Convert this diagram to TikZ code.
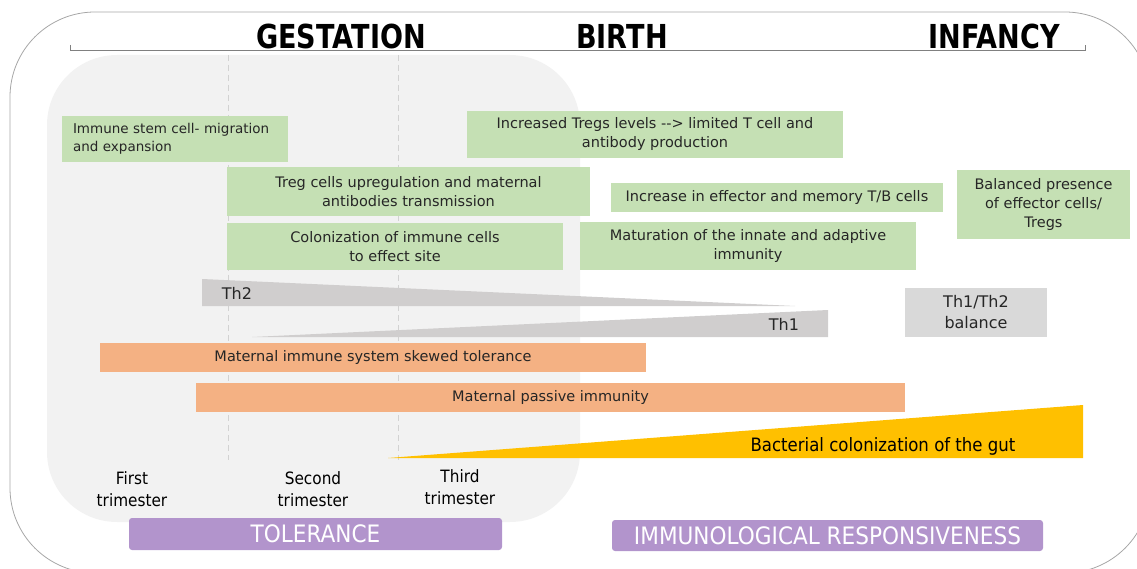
\documentclass[tikz,border=0pt]{standalone}
\usepackage{fontspec}
\setmainfont{DejaVu Sans}
\newfontfamily\headfont[FakeStretch=0.82]{DejaVu Sans Bold}
\newfontfamily\narrowfont[FakeStretch=0.9]{DejaVu Sans}
\usetikzlibrary{positioning}
\definecolor{greenfill}{HTML}{C5E0B4}
\definecolor{orangefill}{HTML}{F4B183}
\definecolor{wedgegray}{HTML}{D0CECE}
\definecolor{boxgray}{HTML}{D9D9D9}
\definecolor{regiongray}{HTML}{F2F2F2}
\definecolor{gutyellow}{HTML}{FFC000}
\definecolor{purplefill}{HTML}{B294CC}
\definecolor{textdark}{HTML}{262626}

\begin{document}
\begin{tikzpicture}[x=1pt,y=-1pt,box/.style={inner sep=0pt, align=center, text=textdark, font=\fontsize{14.5}{19}\selectfont}]
    \tikzset{greenbox/.style={box, fill=greenfill}}
    \tikzset{orangebar/.style={box, fill=orangefill, minimum height=29}}
    \tikzset{thlabel/.style={box, font=\fontsize{16}{21}\selectfont}}
    \tikzset{purplebar/.style={inner sep=0pt, fill=purplefill, rounded corners=3pt, text=white, font=\narrowfont\fontsize{24}{26}\selectfont}}
    \tikzset{trimester/.style={align=center, text=black, font=\narrowfont\fontsize{17}{22}\selectfont}}
    \tikzset{heading/.style={text=black, font=\headfont\fontsize{33}{36}\selectfont}}
    \useasboundingbox (0,0) rectangle (1137,569);
    % frame and gestation area
    \draw[gray!70, line width=0.8pt, rounded corners=85] (10,12) rectangle (1150,573);
    \fill[regiongray, rounded corners=70] (47,55) rectangle (580,522);
    \foreach \x in {228,398} {
    \draw[gray!35, dash pattern=on 6pt off 4pt] (\x,55) -- (\x,460);
    }
    \draw[gray, line width=0.8pt] (70,45) -- (70,50) -- (1085,50) -- (1085,45);
    % time line headings
    \node[heading] (gest) at (341,36) {GESTATION};
    \node[heading] (birth) at (622,36) {BIRTH};
    \node[heading] (inf) at (994,36) {INFANCY};
    % green boxes
    \node[greenbox, minimum width=226, minimum height=46, text width=204, align=left, font=\fontsize{13.5}{18}\selectfont] (stem) at (175,139) {Immune stem cell- migration\\and expansion};
    \node[greenbox, minimum width=376, minimum height=47] (tregs) at (655,134.5) {Increased Tregs levels {-}{-}> limited T cell and\\antibody production};
    \node[greenbox, minimum width=363, minimum height=49] (upreg) at (408.5,191.5) {Treg cells upregulation and maternal\\antibodies transmission};
    \node[greenbox, minimum width=332, minimum height=29] (effector) at (777,197.5) {Increase in effector and memory T/B cells};
    \node[greenbox, minimum width=173, minimum height=69] (balanced) at (1043.5,204.5) {Balanced presence\\of effector cells/\\Tregs};
    \node[greenbox, minimum width=336, minimum height=47] (colon) at (395,246.5) {Colonization of immune cells\\to effect site};
    \node[greenbox, minimum width=336, minimum height=48] (matur) at (748,246) {Maturation of the innate and adaptive\\immunity};
    % Th2 / Th1 wedges
    \fill[wedgegray] (202,279) -- (795,306) -- (202,306) -- cycle;
    \fill[wedgegray] (252,337) -- (828,310) -- (828,337) -- cycle;
    \node[thlabel] (th2) at (237,293) {Th2};
    \node[thlabel] (th1) at (784,324) {Th1};
    \node[thlabel, fill=boxgray, minimum width=142, minimum height=49] (thbal) at (976,312.5) {Th1/Th2\\balance};
    % maternal bars
    \node[orangebar, minimum width=546] (skewed) at (373,357.5) {Maternal immune system skewed tolerance};
    \node[orangebar, minimum width=709] (passive) at (550.5,397.5) {Maternal passive immunity};
    % gut
    \fill[gutyellow] (388,458) -- (1083,405) -- (1083,458) -- cycle;
    \node[box, text=black, font=\narrowfont\fontsize{18.4}{20}\selectfont] (gut) at (883,446) {Bacterial colonization of the gut};
    % trimesters
    \node[trimester] (first) at (132,489) {First\\trimester};
    \node[trimester] (second) at (313,489.5) {Second\\trimester};
    \node[trimester] (third) at (460,487) {Third\\trimester};
    % phases
    \node[purplebar, minimum width=373, minimum height=32] (tol) at (315.5,534) {TOLERANCE};
    \node[purplebar, minimum width=431, minimum height=31] (resp) at (827.5,535.5) {IMMUNOLOGICAL RESPONSIVENESS};
\end{tikzpicture}
\end{document}
